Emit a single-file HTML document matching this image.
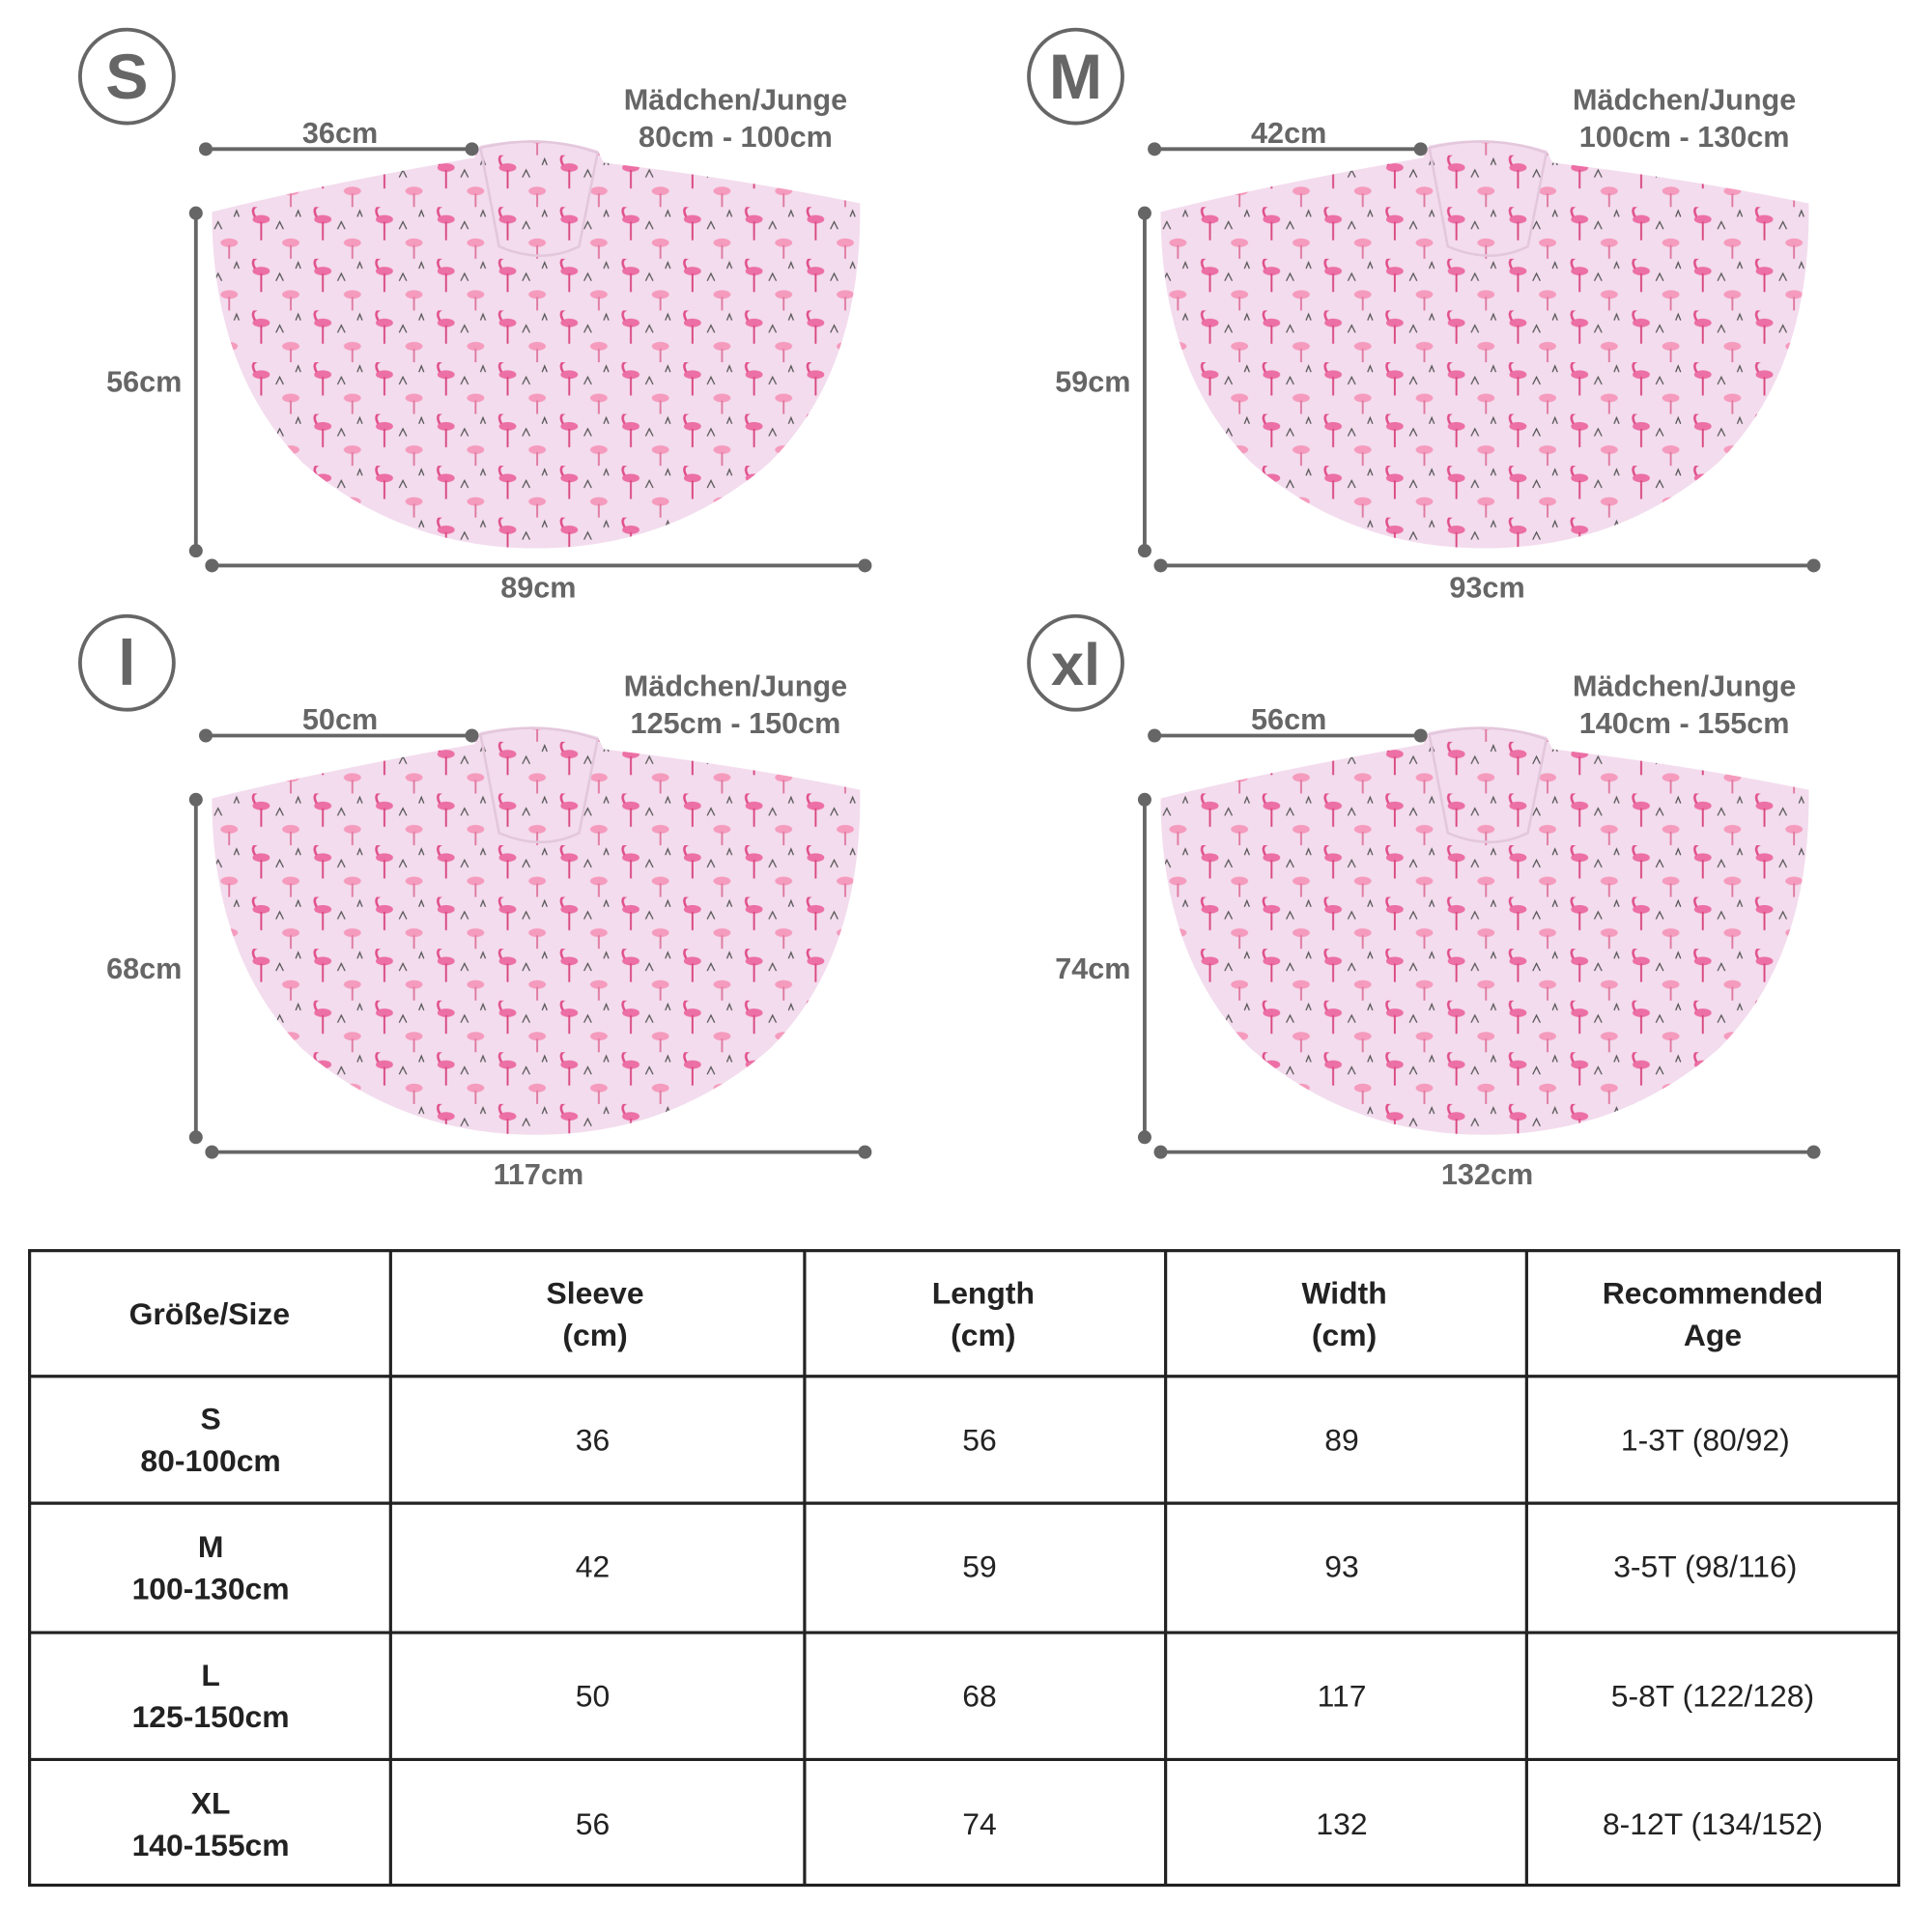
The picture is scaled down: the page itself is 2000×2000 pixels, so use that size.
<!DOCTYPE html>
<html><head><meta charset="utf-8"><style>html,body{margin:0;padding:0;background:#fff}svg{display:block}</style></head>
<body>
<svg width="2000" height="2000" viewBox="0 0 1568 1568" xmlns="http://www.w3.org/2000/svg" font-family="Liberation Sans, sans-serif">
<defs>
<pattern id="fl" width="50" height="42" patternUnits="userSpaceOnUse">
<rect width="50" height="42" fill="#f3dcee"/>
<ellipse cx="12" cy="10" rx="7" ry="3.5" fill="#ec6fa5"/>
<line x1="12" y1="12" x2="12" y2="27" stroke="#d9487f" stroke-width="1.5"/>
<path d="M7 8 q-4 -7 2 -9" stroke="#e0508a" fill="none" stroke-width="2"/>
<ellipse cx="36" cy="29" rx="7" ry="3.5" fill="#f59bbd"/>
<line x1="36" y1="31" x2="36" y2="42" stroke="#e07aa0" stroke-width="1.5"/>
<path d="M24 18 l3 -6 l3 6 M40 8 l2 -5 l2 5" stroke="#555" fill="none" stroke-width="1"/>
</pattern>
<g id="pon">
<path d="M172,172 Q260,150 385,128 L390,118 Q440,108 485,122 L490,132 Q600,145 698,165 Q700,300 625,375 Q545,445 435,445 Q325,445 245,375 Q172,300 172,172 Z" fill="url(#fl)"/>
<path d="M390,120 Q440,108 485,124 L470,200 Q440,215 405,200 Z" fill="url(#fl)" stroke="#e3c7dc" stroke-width="2"/>
</g>
<g id="dims" stroke="#666" stroke-width="3" fill="#666">
<line x1="167" y1="121" x2="383" y2="121"/><circle cx="167" cy="121" r="4"/><circle cx="383" cy="121" r="4"/>
<line x1="159" y1="173" x2="159" y2="447"/><circle cx="159" cy="173" r="4"/><circle cx="159" cy="447" r="4"/>
<line x1="172" y1="459" x2="702" y2="459"/><circle cx="172" cy="459" r="4"/><circle cx="702" cy="459" r="4"/>
</g>
</defs>
<rect width="1568" height="1568" fill="#fff"/>
<g font-weight="bold" fill="#666" font-size="24" text-anchor="middle">
<use href="#pon"/><use href="#dims"/>
<circle cx="103" cy="62" r="38" fill="none" stroke="#666" stroke-width="3"/>
<text x="103" y="80" font-size="52">S</text>
<text x="276" y="116">36cm</text><text x="117" y="318">56cm</text><text x="437" y="485">89cm</text>
<text x="597" y="89">Mädchen/Junge</text><text x="597" y="119">80cm - 100cm</text>
<g transform="translate(770,0)"><use href="#pon"/><use href="#dims"/>
<circle cx="103" cy="62" r="38" fill="none" stroke="#666" stroke-width="3"/>
<text x="103" y="80" font-size="52">M</text>
<text x="276" y="116">42cm</text><text x="117" y="318">59cm</text><text x="437" y="485">93cm</text>
<text x="597" y="89">Mädchen/Junge</text><text x="597" y="119">100cm - 130cm</text></g>
<g transform="translate(0,476)"><use href="#pon"/><use href="#dims"/>
<circle cx="103" cy="62" r="38" fill="none" stroke="#666" stroke-width="3"/>
<text x="103" y="80" font-size="52">l</text>
<text x="276" y="116">50cm</text><text x="117" y="318">68cm</text><text x="437" y="485">117cm</text>
<text x="597" y="89">Mädchen/Junge</text><text x="597" y="119">125cm - 150cm</text></g>
<g transform="translate(770,476)"><use href="#pon"/><use href="#dims"/>
<circle cx="103" cy="62" r="38" fill="none" stroke="#666" stroke-width="3"/>
<text x="103" y="80" font-size="48">xl</text>
<text x="276" y="116">56cm</text><text x="117" y="318">74cm</text><text x="437" y="485">132cm</text>
<text x="597" y="89">Mädchen/Junge</text><text x="597" y="119">140cm - 155cm</text></g>
</g>
<g stroke="#222" stroke-width="2.5" fill="none">
<rect x="24" y="1015" width="1517" height="515"/>
<line x1="317" y1="1015" x2="317" y2="1530"/><line x1="653" y1="1015" x2="653" y2="1530"/>
<line x1="946" y1="1015" x2="946" y2="1530"/><line x1="1239" y1="1015" x2="1239" y2="1530"/>
<line x1="24" y1="1117" x2="1541" y2="1117"/><line x1="24" y1="1220" x2="1541" y2="1220"/>
<line x1="24" y1="1325" x2="1541" y2="1325"/><line x1="24" y1="1428" x2="1541" y2="1428"/>
</g>
<g fill="#222" font-size="25" text-anchor="middle">
<g font-weight="bold">
<text x="170" y="1075">Größe/Size</text>
<text x="483" y="1058">Sleeve</text><text x="483" y="1092">(cm)</text>
<text x="798" y="1058">Length</text><text x="798" y="1092">(cm)</text>
<text x="1091" y="1058">Width</text><text x="1091" y="1092">(cm)</text>
<text x="1390" y="1058">Recommended</text><text x="1390" y="1092">Age</text>
<text x="171" y="1160">S</text><text x="171" y="1194">80-100cm</text>
<text x="171" y="1264">M</text><text x="171" y="1298">100-130cm</text>
<text x="171" y="1368">L</text><text x="171" y="1402">125-150cm</text>
<text x="171" y="1472">XL</text><text x="171" y="1506">140-155cm</text>
</g>
<text x="481" y="1177">36</text><text x="795" y="1177">56</text><text x="1089" y="1177">89</text><text x="1384" y="1177">1-3T (80/92)</text>
<text x="481" y="1280">42</text><text x="795" y="1280">59</text><text x="1089" y="1280">93</text><text x="1384" y="1280">3-5T (98/116)</text>
<text x="481" y="1385">50</text><text x="795" y="1385">68</text><text x="1089" y="1385">117</text><text x="1390" y="1385">5-8T (122/128)</text>
<text x="481" y="1489">56</text><text x="795" y="1489">74</text><text x="1089" y="1489">132</text><text x="1390" y="1489">8-12T (134/152)</text>
</g>
</svg>
</body></html>
